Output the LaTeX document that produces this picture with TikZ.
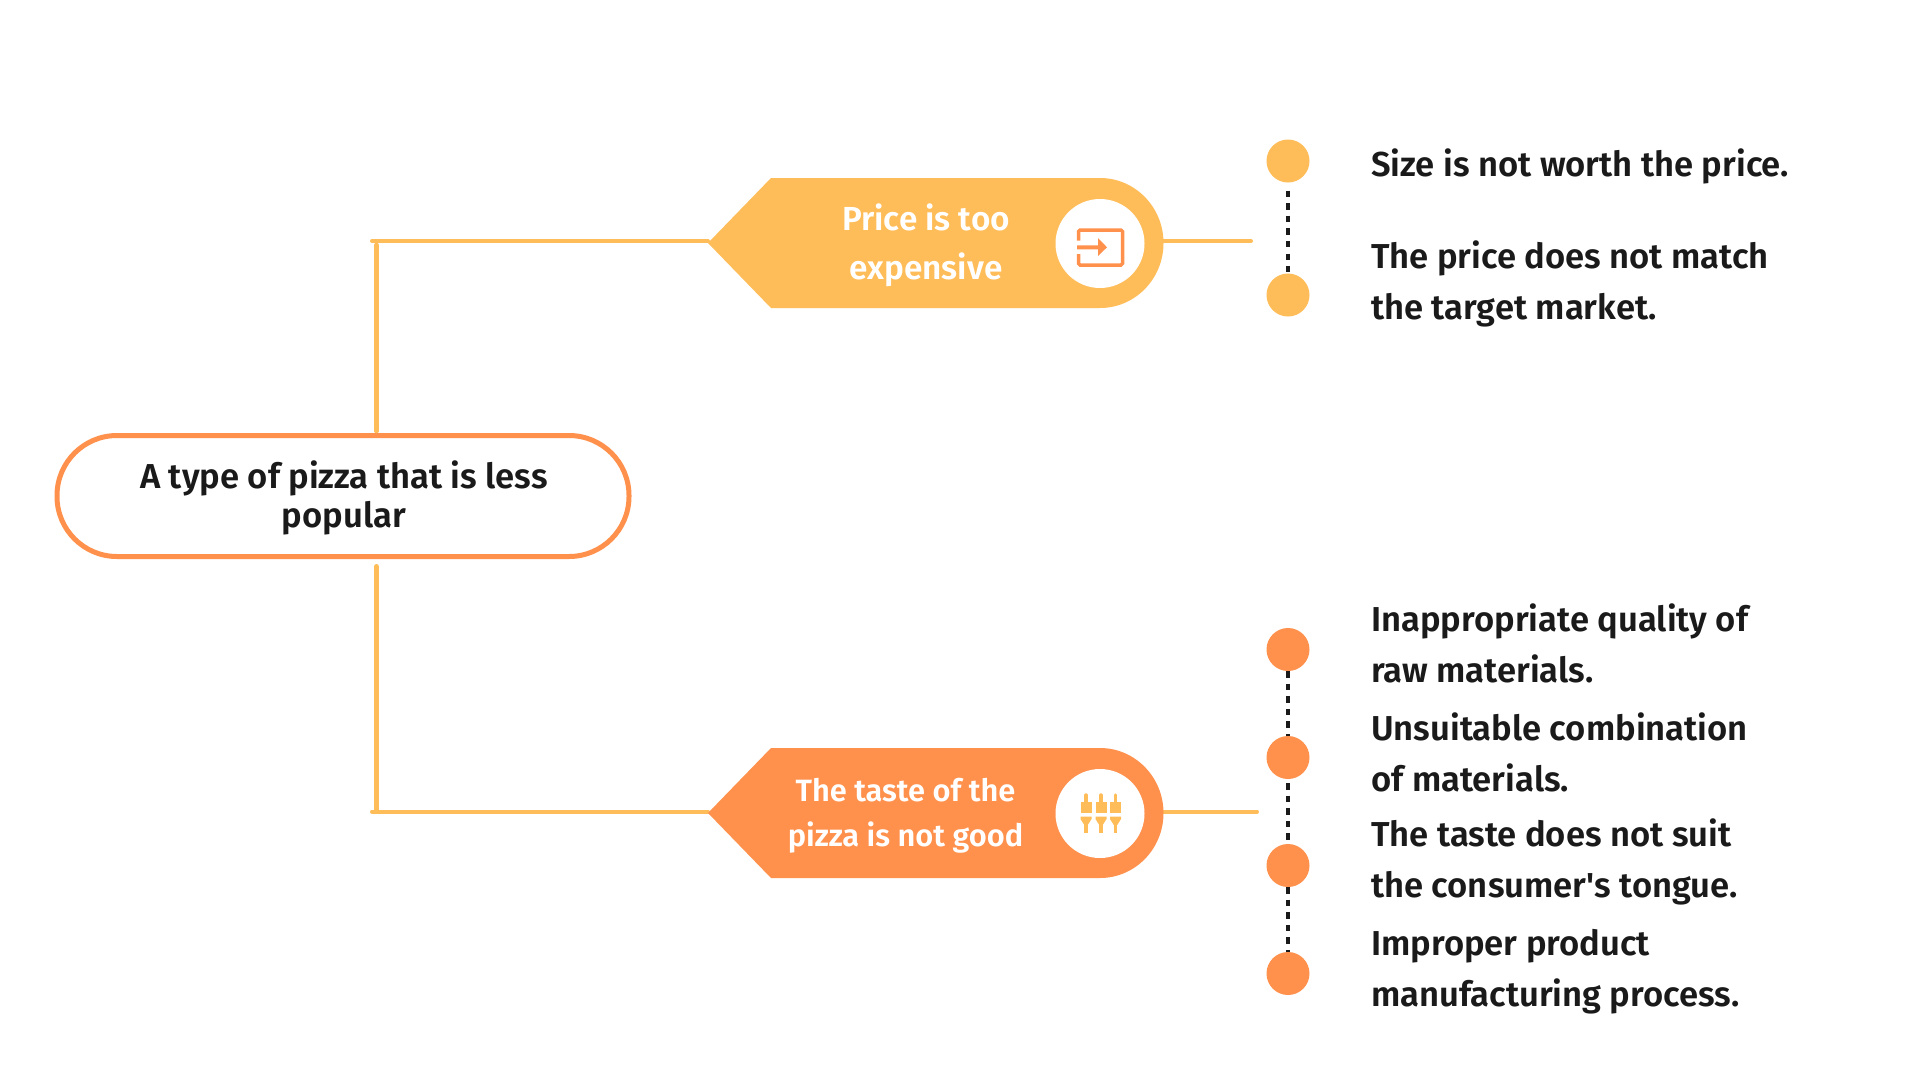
\documentclass[tikz,border=0pt]{standalone}
\usepackage{fontspec}
\setmainfont{Fira Sans}[BoldFont={Fira Sans SemiBold}]
\usepackage{xcolor}
\usepackage{tikz}
\usetikzlibrary{positioning}
\definecolor{tagyellow}{HTML}{FFBD59}
\definecolor{tagorange}{HTML}{FF914D}
\definecolor{inkcolor}{HTML}{1A1A1A}
% tag body, drawn from the west tip of an empty node
\newcommand{\tagBody}[2]{\fill[#1] (#2.west) -- ++(63,-65) -- ++(329,0) arc[start angle=-90, end angle=90, x radius=63.5, y radius=65] -- ++(-329,0) -- cycle;}

\begin{document}
\begin{tikzpicture}[
			x=1pt, y=-1pt,
			rootbox/.style={rectangle, rounded corners=60pt, draw=tagorange, line width=5pt, fill=white, minimum width=572pt, minimum height=121pt},
			roottext/.style={align=center, text=inkcolor, font=\fontsize{34.6}{38.3}\selectfont\bfseries},
			tagbox/.style={rectangle, minimum width=455pt, minimum height=130pt, outer sep=0pt},
			tagtext/.style={align=center, text=white, font=\fontsize{30.8}{45}\selectfont\bfseries},
			holder/.style={circle, fill=white, minimum size=89pt, inner sep=0pt},
			dot/.style={circle, minimum size=43pt, inner sep=0pt, outer sep=0pt},
			item/.style={anchor=west, align=left, inner sep=0pt, text=inkcolor, font=\fontsize{34.6}{51}\selectfont\bfseries},
			link/.style={draw=tagyellow, line width=4pt, line cap=round},
			dots/.style={draw=inkcolor, line width=3.6pt, dash pattern=on 6.5pt off 6.1pt}
		]
		\useasboundingbox (0,0) rectangle (1920,1080);
		\fill[white] (0,0) rectangle (1920,1080);

		\node[rootbox] (root) at (343,496) {};
		\node[roottext] (rootlabel) at (344,498) {A type of pizza that is less\\popular};

		\node[tagbox] (price) at (935.5,243) {};
		\node[tagbox] (taste) at (935.5,813) {};
		\coordinate (priceelbow) at (372,241);
		\coordinate (tasteelbow) at (372,811.5);
		\coordinate (priceend) at (1251,241);
		\coordinate (tasteend) at (1257,811.5);

		% yellow lines
		\draw[link] (priceelbow) -- (price.west |- priceelbow);
		\draw[link] (tasteelbow) -- (taste.west |- tasteelbow);
		\draw[link] (price.east |- priceend) -- (priceend);
		\draw[link] (taste.east |- tasteend) -- (tasteend);
		\draw[link, line width=4.5pt] (376.5,245) -- (376.5,431);
		\draw[link, line width=5.5pt] (376.5,566.7) -- (376.5,810);

		\tagBody{tagyellow}{price}
		\tagBody{tagorange}{taste}
		\node[tagtext, font=\fontsize{33.3}{49}\selectfont\bfseries] (pricetext) at (926,245.5) {Price is too\\expensive};
		\node[tagtext] (tastetext) at (905.5,816) {The taste of the\\pizza is not good};
		\node[holder] (priceicon) at (1100,243.5) {};
		\node[holder] (tasteicon) at (1100,813.5) {};

		% icon, door with arrow
		\draw[tagorange, line width=3.5pt, rounded corners=1.5pt] (1078.5,240.5) -- (1078.5,230) -- (1122.5,230) -- (1122.5,265) -- (1078.5,265) -- (1078.5,254);
		\fill[tagorange] (1077,245.3) -- (1098,245.3) -- (1098,238) -- (1107,247.3) -- (1098,256) -- (1098,249.3) -- (1077,249.3) -- cycle;

		% icon, three sticks
		\foreach \sx in {1086,1101,1115.5} {
			\draw[tagyellow, line width=3.4pt, line cap=round] (\sx,795) -- (\sx,803);
			\fill[tagyellow] (\sx-5.5,802.3) rectangle (\sx+5.5,813);
			\fill[tagyellow] (\sx-5.5,816.7) -- (\sx+5.5,816.7) -- (\sx+5.5,819) -- (\sx+1.7,825) -- (\sx-1.7,825) -- (\sx-5.5,819) -- cycle;
			\draw[tagyellow, line width=3.4pt] (\sx,824) -- (\sx,833.3);
		}

		\node[dot, fill=tagyellow] (d1) at (1288,161) {};
		\node[dot, fill=tagyellow] (d2) [below=91pt of d1] {};
		\node[dot, fill=tagorange] (d3) at (1288,649.5) {};
		\node[dot, fill=tagorange] (d4) [below=65pt of d3] {};
		\node[dot, fill=tagorange] (d5) [below=65pt of d4] {};
		\node[dot, fill=tagorange] (d6) [below=65pt of d5] {};

		\draw[dots, shorten >=2pt, shorten <=8pt] (d1) -- (d2);
		\draw[dots] (d3) -- (d4);
		\draw[dots, shorten <=4pt, shorten >=2pt] (d4) -- (d5);
		\draw[dots] (d5) -- (d6);

		\node[item] (t1) at (1371,166) {Size is not worth the price.};
		\node[item] (t2) at (1371,283.5) {The price does not match\\the target market.};
		\node[item] (t3) at (1371,643.5) {Inappropriate quality of\\raw materials.};
		\node[item] (t4) at (1371,752.5) {Unsuitable combination\\of materials.};
		\node[item] (t5) at (1371,862) {The taste does not suit\\the consumer\textquotesingle s tongue.};
		\node[item] (t6) at (1371,971.5) {Improper product\\manufacturing process.};
\end{tikzpicture}
\end{document}
